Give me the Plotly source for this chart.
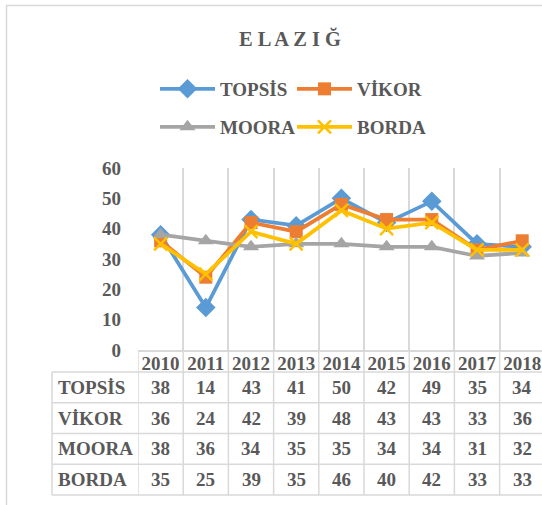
import plotly.graph_objects as go

# ---- data ----
years = ['2010', '2011', '2012', '2013', '2014', '2015', '2016', '2017', '2018']
topsis = [38, 14, 43, 41, 50, 42, 49, 35, 34]
vikor = [36, 24, 42, 39, 48, 43, 43, 33, 36]
moora = [38, 36, 34, 35, 35, 34, 34, 31, 32]
borda = [35, 25, 39, 35, 46, 40, 42, 33, 33]
series_names = ['TOPSİS', 'VİKOR', 'MOORA', 'BORDA']
y_ticks = [0, 10, 20, 30, 40, 50, 60]

series_values = [topsis, vikor, moora, borda]
colors = ['#5B9BD5', '#ED7D31', '#A5A5A5', '#FFC000']
symbols = ['diamond', 'square', 'triangle-up', 'x-thin']
msizes = [15, 13, 14, 13]
legends = ['legend', 'legend', 'legend2', 'legend2']

# ---- layout geometry (pixels) ----
W, H = 542, 505
L, T = 138, 168
PLOT_BOTTOM = 350
PLOT_H = PLOT_BOTTOM - T
PLOT_W = W - L
COL_W = 45.2
TXT = '#595959'
GRID = '#d9d9d9'
FONT = 'Liberation Serif'
FS = 19


def px(p):
    return (p - L) / PLOT_W


def py(p):
    return (PLOT_BOTTOM - p) / PLOT_H


fig = go.Figure()
for name, vals, c, s, ms, lg in zip(series_names, series_values, colors, symbols, msizes, legends):
    marker = dict(symbol=s, size=ms, color=c)
    if s == 'x-thin':
        marker['line'] = dict(width=2.5, color=c)
    fig.add_trace(go.Scatter(
        x=years, y=vals, name=name, mode='lines+markers',
        line=dict(color=c, width=3.75), marker=marker, legend=lg,
        cliponaxis=False,
    ))

# ---- data table under the chart ----
row_lines = [372, 402.75, 433.5, 464.25, 495]
shapes = []
for k in range(len(years) + 1):
    shapes.append(dict(type='line', xref='x', yref='paper', x0=k - 0.5, x1=k - 0.5,
                       y0=py(PLOT_BOTTOM), y1=py(row_lines[-1]),
                       line=dict(color=GRID, width=1.5), layer='below'))
shapes.append(dict(type='line', xref='paper', yref='paper', x0=px(52), x1=px(52),
                   y0=py(row_lines[0]), y1=py(row_lines[-1]),
                   line=dict(color=GRID, width=1.5)))
for r in row_lines:
    shapes.append(dict(type='line', xref='paper', yref='paper', x0=px(52), x1=px(560),
                       y0=py(r), y1=py(r), line=dict(color=GRID, width=1.5)))
shapes.append(dict(type='rect', xref='paper', yref='paper', x0=px(6.5), x1=px(700),
                   y0=py(5.5), y1=py(700), line=dict(color=GRID, width=1.5)))

annotations = []
for i, (name, vals) in enumerate(zip(series_names, series_values)):
    yc = py((row_lines[i] + row_lines[i + 1]) / 2)
    annotations.append(dict(text=name, xref='paper', yref='paper', x=px(56), y=yc,
                            xanchor='left', yanchor='middle', showarrow=False,
                            font=dict(family=FONT, size=FS, color=TXT, weight='bold')))
    for j, v in enumerate(vals):
        annotations.append(dict(text=str(v), xref='x', yref='paper', x=j, y=yc,
                                xanchor='center', yanchor='middle', showarrow=False,
                                font=dict(family=FONT, size=FS, color=TXT, weight='bold')))

legend_common = dict(orientation='h', xref='container', yref='container',
                     xanchor='left', yanchor='middle', bgcolor='rgba(0,0,0,0)',
                     font=dict(family=FONT, size=FS, color=TXT, weight='bold'),
                     itemwidth=55, entrywidth=67, traceorder='normal')

fig.update_layout(
    width=W, height=H,
    margin=dict(l=L, r=0, t=T, b=H - PLOT_BOTTOM, pad=0, autoexpand=False),
    paper_bgcolor='white', plot_bgcolor='white',
    title=dict(text='E L A Z I Ğ', xref='container', yref='container',
               x=290 / W, y=1 - 39 / H, xanchor='center', yanchor='middle',
               automargin=False,
               font=dict(family=FONT, size=20.5, color=TXT, weight='bold')),
    showlegend=True,
    legend=dict(x=155 / W, y=1 - 89 / H, **legend_common),
    legend2=dict(x=155 / W, y=1 - 127 / H, **legend_common),
    xaxis=dict(type='category', categoryorder='array', categoryarray=years,
               range=[-0.5, -0.5 + PLOT_W / COL_W], tickson='boundaries',
               showgrid=True, gridcolor=GRID, gridwidth=1.5, automargin=False,
               showline=True, linecolor=GRID, linewidth=1.5, ticks='', tickangle=0,
               ticklabelstandoff=-5,
               tickfont=dict(family=FONT, size=FS, color=TXT, weight='bold'),
               fixedrange=True),
    yaxis=dict(range=[0, 60], tickvals=y_ticks, showgrid=False, zeroline=False,
               showline=False, ticks='', ticklabelstandoff=16, automargin=False,
               tickfont=dict(family=FONT, size=FS, color=TXT, weight='bold'),
               fixedrange=True),
    shapes=shapes,
    annotations=annotations,
)

fig.write_html('out.html', config={'displayModeBar': False},
               post_script="document.body.style.margin='0';document.body.style.padding='0';"
                           "document.documentElement.style.overflow='hidden';")
